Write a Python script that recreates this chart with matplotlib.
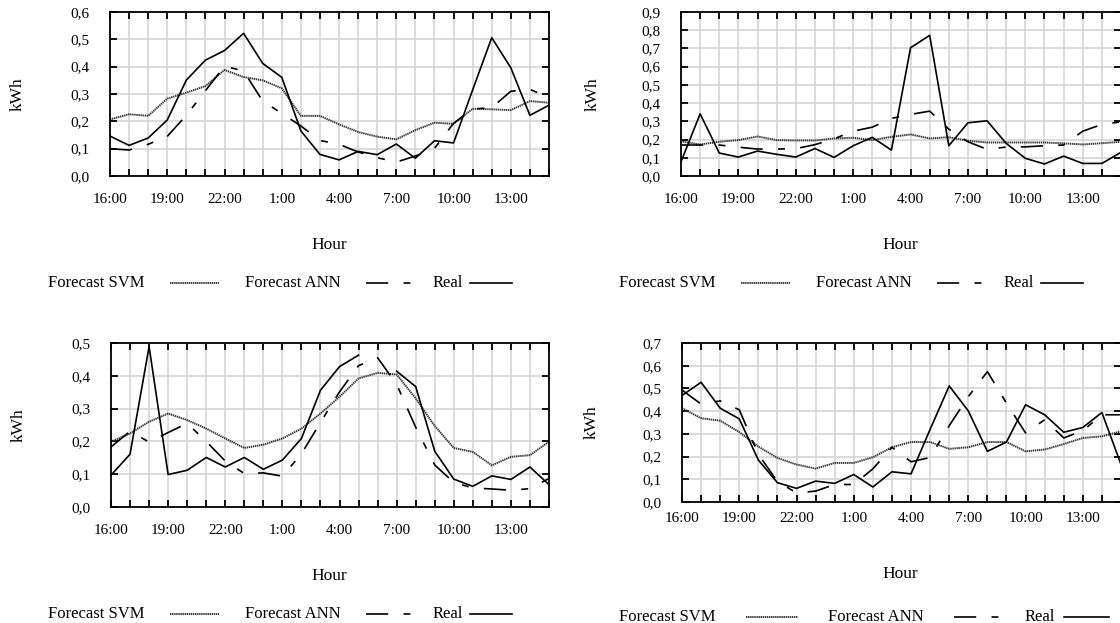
import numpy as np
import matplotlib.pyplot as plt
from matplotlib.lines import Line2D

plt.rcParams['font.family'] = ['Liberation Serif', 'DejaVu Serif']
plt.rcParams['lines.scale_dashes'] = False

nan = np.nan

# hours of the day, starting at 16:00
hours = [16, 17, 18, 19, 20, 21, 22, 23, 0, 1, 2, 3, 4, 5, 6, 7, 8, 9, 10, 11, 12, 13, 14, 15]
hour_labels = [f'{h}:00' if i % 3 == 0 else '' for i, h in enumerate(hours)]

# top left
real_a = [0.146, 0.112, 0.139, 0.205, 0.351, 0.424, 0.459, 0.522, 0.412, 0.361, 0.165, 0.079,
          0.059, 0.090, 0.078, 0.117, 0.065, 0.129, 0.121, 0.315, 0.506, 0.396, 0.222, 0.259]
svm_a = [0.207, 0.226, 0.220, 0.283, 0.305, 0.329, 0.388, 0.362, 0.350, 0.321, 0.220, 0.220,
         0.189, 0.161, 0.144, 0.134, 0.168, 0.195, 0.191, 0.246, 0.244, 0.241, 0.274, 0.268]
ann_a = [0.100, 0.095, 0.116, 0.145, 0.222, 0.312, 0.402, 0.384, 0.274, 0.229, 0.183, 0.130,
         0.116, 0.088, 0.067, 0.051, 0.073, 0.101, 0.193, 0.245, 0.250, 0.310, 0.317, 0.287]

# top right
real_b = [0.078, 0.341, 0.126, 0.104, 0.137, 0.119, 0.104, 0.151, 0.102, 0.166, 0.212, 0.142,
          0.704, 0.772, 0.166, 0.292, 0.303, 0.179, 0.097, 0.066, 0.109, 0.069, 0.069, 0.130]
svm_b = [0.190, 0.173, 0.188, 0.197, 0.217, 0.197, 0.195, 0.195, 0.206, 0.210, 0.197, 0.215,
         0.228, 0.206, 0.213, 0.193, 0.184, 0.184, 0.184, 0.184, 0.179, 0.173, 0.180, 0.188]
ann_b = [0.170, 0.170, 0.170, 0.158, 0.148, 0.148, 0.150, 0.172, 0.204, 0.246, 0.268, 0.316,
         0.338, 0.356, 0.257, 0.188, 0.146, 0.159, 0.160, 0.166, 0.170, 0.246, 0.283, 0.297]

# bottom left (real value missing at 6:00)
real_c = [0.097, 0.161, 0.489, 0.099, 0.112, 0.151, 0.122, 0.151, 0.115, 0.143, 0.209, 0.356,
          0.428, 0.463, nan, 0.414, 0.367, 0.170, 0.085, 0.063, 0.095, 0.084, 0.122, 0.068]
svm_c = [0.199, 0.224, 0.260, 0.285, 0.265, 0.239, 0.209, 0.180, 0.190, 0.209, 0.239, 0.285,
         0.336, 0.392, 0.409, 0.404, 0.331, 0.247, 0.180, 0.168, 0.127, 0.153, 0.158, 0.199]
ann_c = [0.183, 0.231, 0.198, 0.227, 0.255, 0.200, 0.140, 0.102, 0.104, 0.094, 0.162, 0.258,
         0.351, 0.431, 0.455, 0.374, 0.243, 0.128, 0.075, 0.058, 0.055, 0.051, 0.056, 0.087]

# bottom right
real_d = [0.469, 0.527, 0.413, 0.366, 0.185, 0.085, 0.060, 0.092, 0.082, 0.121, 0.066, 0.133,
          0.124, 0.320, 0.511, 0.401, 0.223, 0.264, 0.428, 0.384, 0.307, 0.328, 0.394, 0.165]
svm_d = [0.413, 0.369, 0.358, 0.308, 0.244, 0.194, 0.165, 0.147, 0.172, 0.172, 0.197, 0.241,
         0.264, 0.264, 0.234, 0.241, 0.264, 0.264, 0.223, 0.231, 0.255, 0.282, 0.289, 0.311]
ann_d = [0.493, 0.431, 0.445, 0.406, 0.210, 0.090, 0.040, 0.048, 0.077, 0.077, 0.146, 0.241,
         0.177, 0.196, 0.336, 0.464, 0.574, 0.435, 0.304, 0.362, 0.282, 0.314, 0.384, 0.384]

svm_style = dict(color='#333333', lw=1.4, ls=(0, (1, 0.5)))
ann_style = dict(color='black', lw=1.2, ls=(0, (16, 11, 5, 11)))
real_style = dict(color='black', lw=1.2, ls='-')

W, H = 1120, 623
fig = plt.figure(figsize=(11.2, 6.23), dpi=100)


def panel(box, real, svm, ann, ymax, xpad, kwh_x, hour_x, hour_y, leg_x0, leg_y, leg_scale):
    l, t, r, b = box
    ax = fig.add_axes([l / W, 1 - b / H, (r - l) / W, (b - t) / H])
    x = np.arange(len(hours))
    ax.plot(x, svm, **svm_style)
    ax.plot(x, ann, **ann_style)
    ax.plot(x, real, **real_style)

    ax.set_xlim(0, len(hours) - 1)
    ax.set_ylim(0, ymax)
    ax.set_xticks(x)
    ax.set_xticklabels(hour_labels)
    yt = np.round(np.arange(0, ymax + 0.05, 0.1), 1)
    ax.set_yticks(yt)
    ax.set_yticklabels([f'{v:.1f}'.replace('.', ',') for v in yt])

    ax.grid(True, color='#d5d5d5', lw=1.2)
    ax.set_axisbelow(True)
    ax.tick_params(direction='in', length=5, width=1.3, top=True, right=True,
                   labelsize=11, colors='black')
    ax.tick_params(axis='x', pad=xpad)
    ax.tick_params(axis='y', pad=15)
    for s in ax.spines.values():
        s.set_linewidth(1.3)

    fig.text(kwh_x / W, 1 - (t + b) / 2 / H, 'kWh', rotation=90, ha='center', va='center', fontsize=12.5)
    fig.text(hour_x / W, 1 - hour_y / H, 'Hour', ha='center', va='center', fontsize=12.5)

    # legend row: label followed by its line sample
    ly = 1 - leg_y / H
    items = [('Forecast SVM', 37, 155, 170, 219, svm_style),
             ('Forecast ANN', 230, 355, 366, 412, ann_style),
             ('Real', 429, 466, 470, 512, real_style)]
    for name, t0, t1, h0, h1, st in items:
        px = lambda v: leg_x0 + (v - 37) * leg_scale
        fig.text((px(t0) + px(t1)) / 2 / W, ly, name, ha='center', va='center', fontsize=12)
        fig.add_artist(Line2D([px(h0) / W, px(h1) / W], [ly, ly], transform=fig.transFigure, **st))
    return ax


panel((110, 12, 549, 176), real_a, svm_a, ann_a, 0.6, 12.5, 18, 329, 245, 37, 283, 1.0)
panel((681, 12, 1121, 176), real_b, svm_b, ann_b, 0.9, 12.5, 593, 900, 245, 608, 283, 1.0)
panel((111, 343, 549, 507), real_c, svm_c, ann_c, 0.5, 12.5, 19, 329, 576, 37, 614, 1.0)
panel((682, 343, 1121, 502), real_d, svm_d, ann_d, 0.7, 7.5, 592, 900, 574, 605, 617, 1.06)

fig.savefig('out.png', dpi=100)
